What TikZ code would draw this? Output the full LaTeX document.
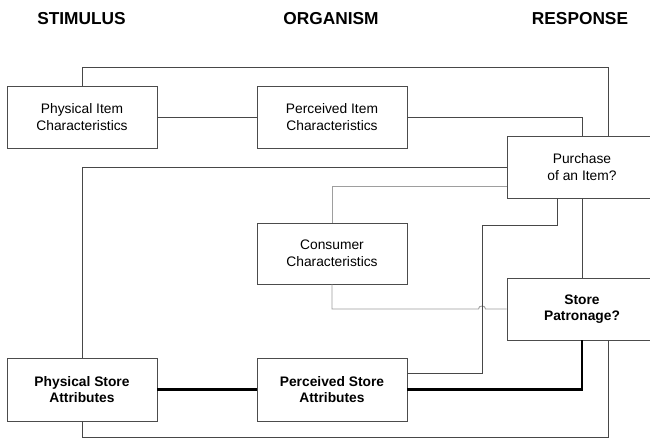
\documentclass[tikz,border=0pt]{standalone}
\usepackage{fontspec}
\setmainfont{Liberation Sans}
\begin{document}
\begin{tikzpicture}[x=1pt,y=-1pt,
  box/.style={draw=black!70, line width=0.9pt, minimum width=150pt, minimum height=62pt,
    inner sep=0pt, align=center, font=\fontsize{13.8}{16.7}\selectfont},
  boldbox/.style={box, font=\fontsize{13.8}{16.7}\selectfont\bfseries},
  title/.style={anchor=base, font=\fontsize{17.3}{20}\selectfont\bfseries},
  wire/.style={draw=black!72, line width=0.9pt},
  lightwire/.style={draw=black!38, line width=0.9pt},
  thickwire/.style={draw=black, line width=2.4pt}]
\clip (0,0) rectangle (650,439);
\fill[white] (0,0) rectangle (650,439);

\node[title] (t1) at (81.5,24) {STIMULUS};
\node[title] (t2) at (331,24) {ORGANISM};
\node[title] (t3) at (580,24) {RESPONSE};

\node[box] (pic) at (82,117) {Physical Item\\Characteristics};
\node[box] (pei) at (332,117) {Perceived Item\\Characteristics};
\node[box, minimum height=61pt] (cons) at (332,253.5) {Consumer\\Characteristics};
\node[boldbox, minimum height=63pt] (pst) at (82,389.5) {Physical Store\\Attributes};
\node[boldbox, minimum height=63pt] (pes) at (332,389.5) {Perceived Store\\Attributes};
\node[box] (pur) at (582,167) {Purchase\\of an Item?};
\node[boldbox] (sp) at (582,309) {Store\\Patronage?};

\coordinate (tr) at (608,67);
\coordinate (c1) at (482,225);
\coordinate (h1) at (478.5,309);
\coordinate (h2) at (485.5,309);
\coordinate (bot) at (82,437.5);

% top loop
\draw[wire] (pic.north) |- (tr) -- ([xshift=26pt]pur.north);
\draw[wire] (pic.east) -- (pei.west);
\draw[wire] (pei.east) -| (pur.north);
\draw[wire] (pst.north) |- (pur.west);
% consumer lines
\draw[lightwire] ([yshift=-19pt]pur.west) -| (cons.north);
\draw[lightwire] (cons.south) |- (h1) .. controls (478.5,305) and (485.5,305) .. (h2) -- (sp.west);
% purchase to perceived store
\draw[wire] ([xshift=-25pt]pur.south) |- (c1) |- ([yshift=16.5pt]pes.east);
\draw[wire] (pur.south) -- (sp.north);
% thick
\draw[thickwire] (sp.south) |- (pes.east);
\draw[thickwire] (pst.east) -- (pes.west);
% bottom loop
\draw[wire] ([xshift=26pt]sp.south) |- (bot) -- (pst.south);
\end{tikzpicture}
\end{document}
